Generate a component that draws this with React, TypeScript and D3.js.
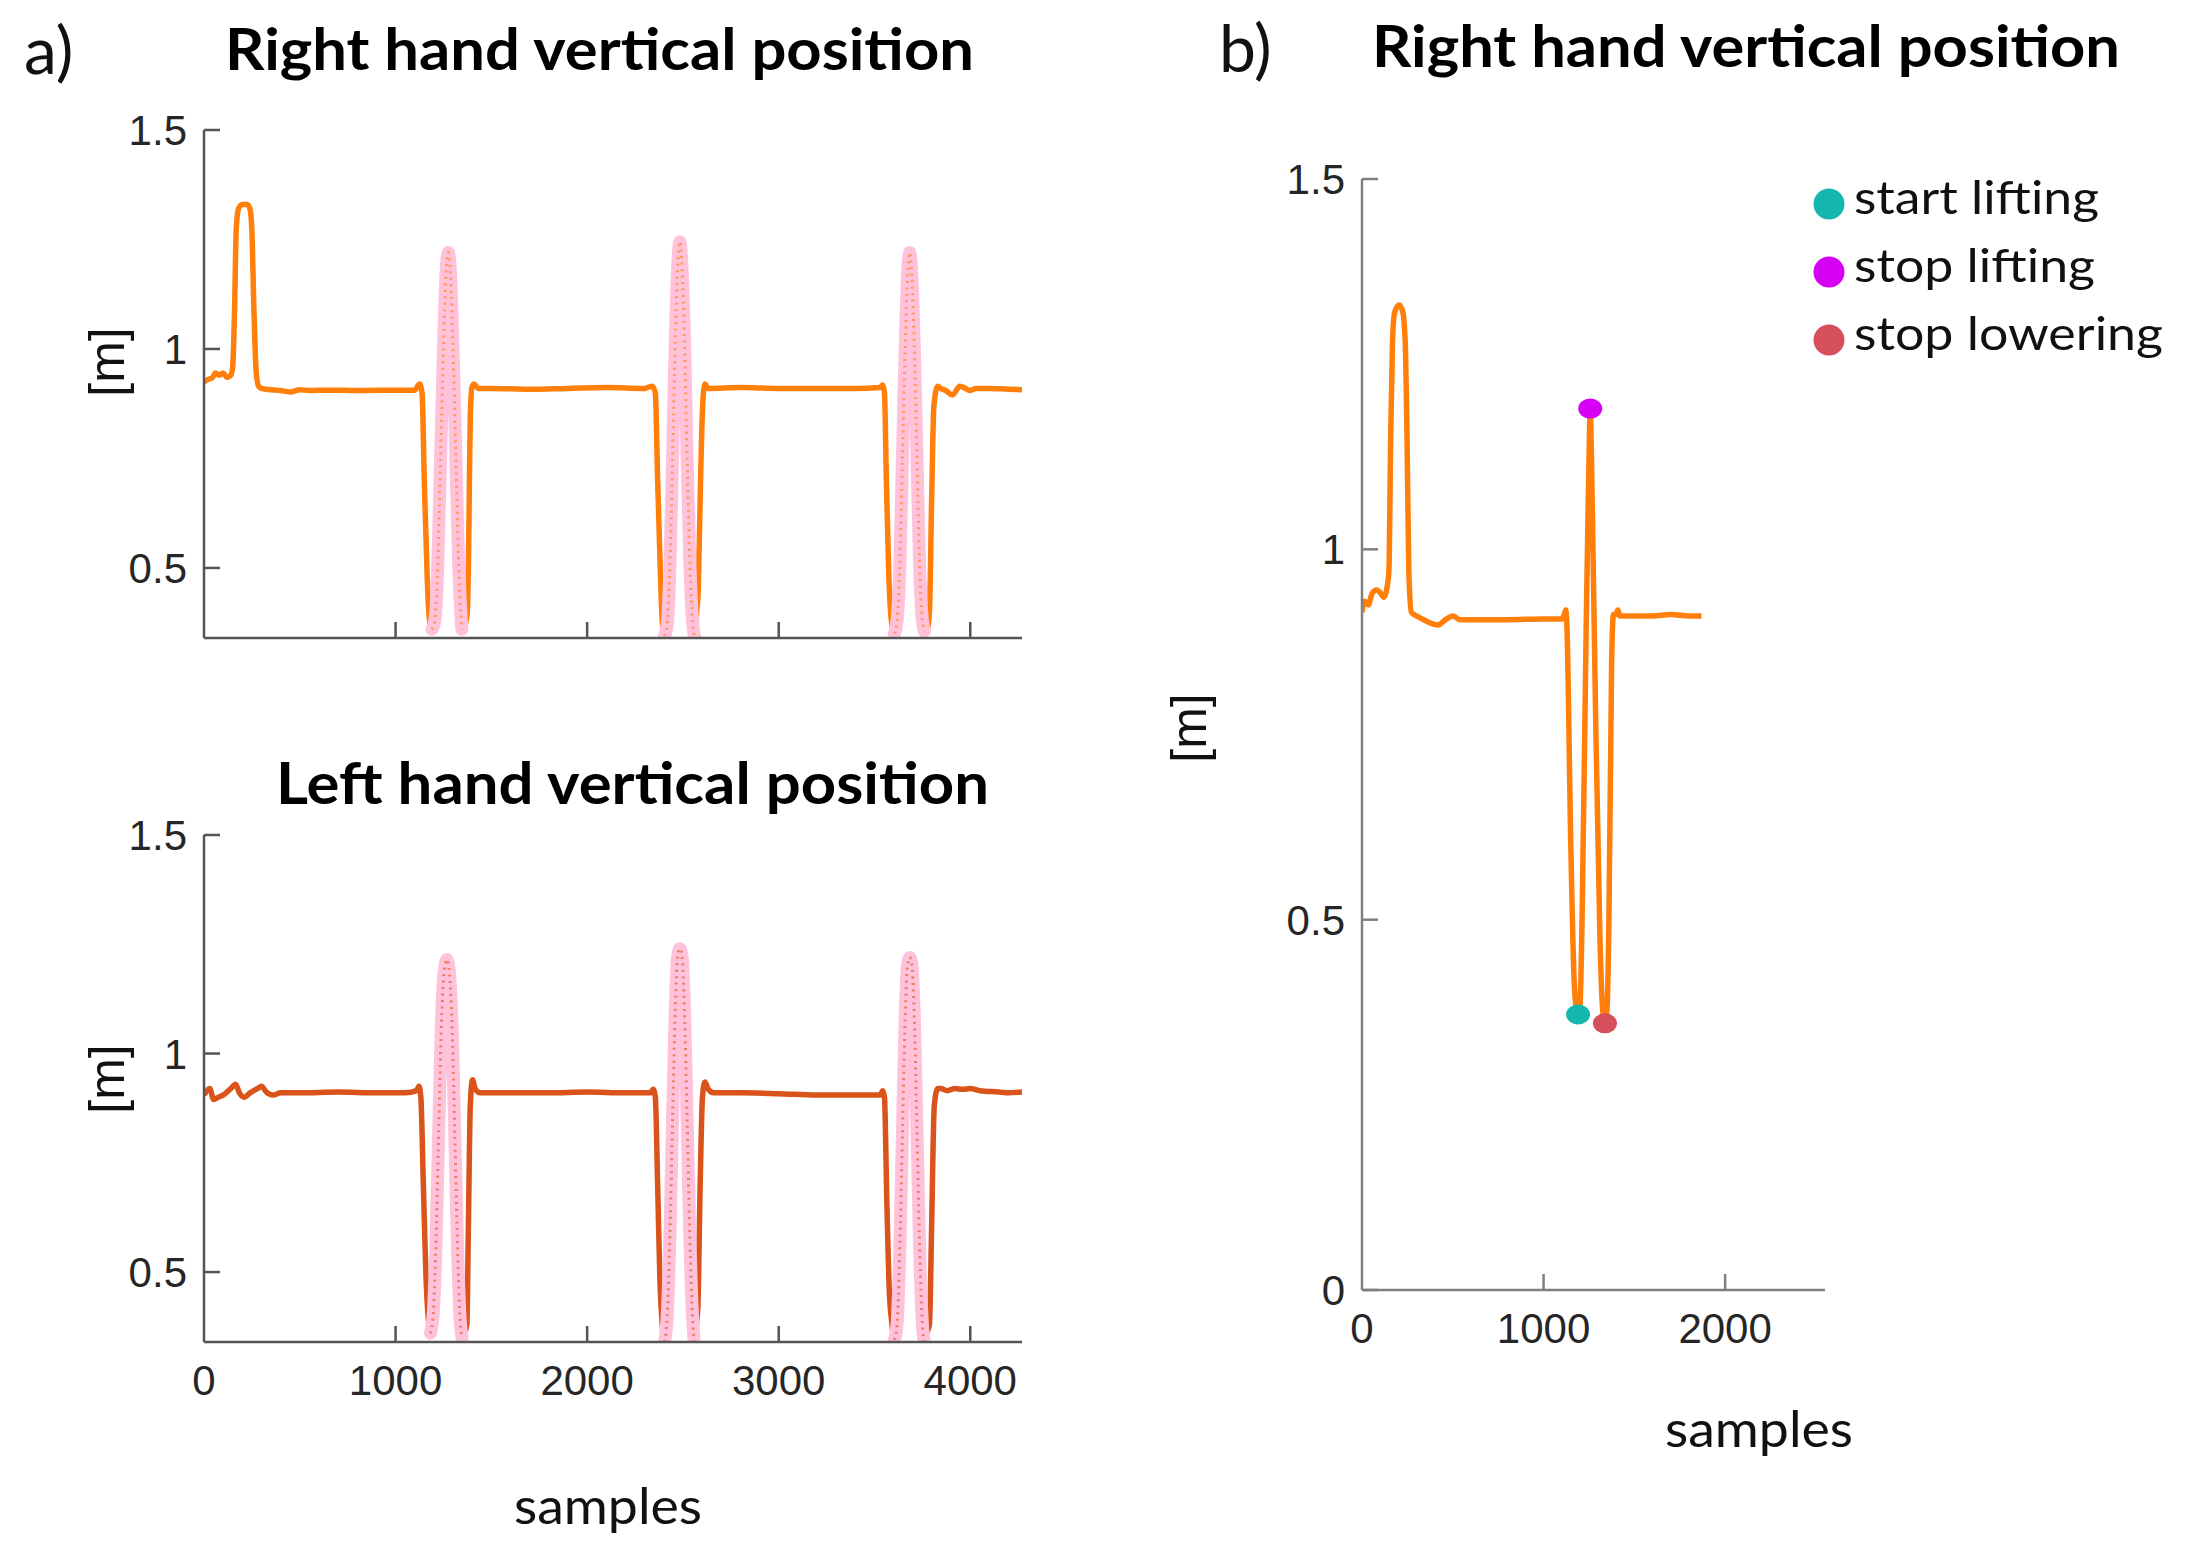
import React from "react";
import * as d3 from "d3";

type Pt = [number, number];

// a) right hand vertical position [sample, metres]
const rightHandA: Pt[] = [
  [0, 0.925], [20, 0.93], [45, 0.935], [60, 0.945], [80, 0.94], [100, 0.945], [120, 0.935], [140, 0.94],
  [150, 0.96], [160, 1.1], [168, 1.27], [180, 1.32], [200, 1.33], [225, 1.33], [240, 1.32], [250, 1.27],
  [260, 1.1], [272, 0.95], [285, 0.915], [300, 0.91], [350, 0.907], [400, 0.905], [450, 0.902], [500, 0.907],
  [550, 0.905], [650, 0.906], [800, 0.905], [1000, 0.906], [1100, 0.906], [1125, 0.92], [1138, 0.9],
  [1150, 0.7], [1165, 0.48], [1175, 0.39], [1190, 0.36],
  [1205, 0.38], [1220, 0.5], [1235, 0.75], [1250, 1.0], [1262, 1.16], [1275, 1.22], [1288, 1.16],
  [1300, 1.0], [1315, 0.75], [1330, 0.5], [1346, 0.36],
  [1362, 0.37], [1375, 0.4], [1383, 0.6], [1390, 0.85], [1400, 0.915], [1410, 0.92], [1430, 0.91],
  [1500, 0.91], [1700, 0.908], [1900, 0.91], [2100, 0.912], [2300, 0.91], [2340, 0.915], [2356, 0.9],
  [2368, 0.7], [2383, 0.48], [2392, 0.38], [2404, 0.345],
  [2418, 0.37], [2432, 0.5], [2446, 0.75], [2460, 1.02], [2472, 1.18], [2484, 1.245], [2496, 1.18],
  [2508, 1.02], [2522, 0.75], [2537, 0.5], [2550, 0.38], [2561, 0.34],
  [2572, 0.4], [2580, 0.45], [2592, 0.7], [2604, 0.88], [2615, 0.92], [2630, 0.91], [2800, 0.912],
  [3000, 0.91], [3200, 0.91], [3400, 0.91], [3530, 0.912], [3541, 0.918], [3552, 0.9], [3562, 0.7],
  [3575, 0.48], [3588, 0.38], [3604, 0.35],
  [3618, 0.38], [3632, 0.5], [3646, 0.75], [3660, 1.0], [3672, 1.16], [3684, 1.22], [3696, 1.16],
  [3708, 1.0], [3722, 0.75], [3736, 0.5], [3750, 0.38], [3761, 0.355],
  [3775, 0.36], [3787, 0.4], [3798, 0.65], [3810, 0.87], [3830, 0.915], [3845, 0.91], [3872, 0.905],
  [3908, 0.895], [3945, 0.915], [3975, 0.91], [4000, 0.905], [4030, 0.91], [4100, 0.91], [4200, 0.908],
  [4270, 0.907],
];
const rightLiftsA: Pt[] = [[1190, 1346], [2404, 2561], [3604, 3761]];

// a) left hand vertical position
const leftHandA: Pt[] = [
  [0, 0.905], [15, 0.915], [30, 0.92], [50, 0.895], [75, 0.9], [100, 0.905], [140, 0.92], [165, 0.93],
  [185, 0.91], [210, 0.9], [240, 0.91], [280, 0.92], [300, 0.925], [325, 0.912], [360, 0.905], [400, 0.91],
  [500, 0.91], [700, 0.912], [900, 0.91], [1050, 0.91], [1110, 0.915], [1122, 0.925], [1132, 0.9],
  [1145, 0.7], [1158, 0.5], [1168, 0.41], [1182, 0.36],
  [1196, 0.4], [1210, 0.55], [1224, 0.8], [1238, 1.05], [1252, 1.18], [1268, 1.215], [1282, 1.18],
  [1296, 1.05], [1310, 0.8], [1324, 0.55], [1336, 0.4], [1347, 0.35],
  [1360, 0.36], [1372, 0.38], [1380, 0.6], [1390, 0.88], [1402, 0.94], [1415, 0.92], [1440, 0.91],
  [1600, 0.91], [1800, 0.91], [2000, 0.912], [2200, 0.91], [2330, 0.91], [2345, 0.918], [2356, 0.9],
  [2368, 0.7], [2380, 0.48], [2392, 0.38], [2404, 0.34],
  [2418, 0.4], [2432, 0.58], [2446, 0.85], [2460, 1.1], [2472, 1.22], [2484, 1.24], [2496, 1.22],
  [2508, 1.1], [2522, 0.85], [2536, 0.58], [2550, 0.4], [2561, 0.33],
  [2570, 0.38], [2578, 0.42], [2590, 0.7], [2602, 0.9], [2615, 0.935], [2630, 0.92], [2660, 0.91],
  [2800, 0.91], [3000, 0.908], [3200, 0.905], [3400, 0.905], [3530, 0.905], [3543, 0.915], [3552, 0.9],
  [3565, 0.65], [3578, 0.45], [3589, 0.39], [3604, 0.345],
  [3618, 0.38], [3632, 0.55], [3646, 0.82], [3660, 1.08], [3672, 1.2], [3684, 1.22], [3696, 1.2],
  [3708, 1.08], [3722, 0.82], [3736, 0.55], [3750, 0.38], [3761, 0.34],
  [3772, 0.36], [3787, 0.38], [3798, 0.6], [3812, 0.88], [3830, 0.92], [3846, 0.92], [3880, 0.915],
  [3920, 0.92], [3960, 0.918], [4000, 0.92], [4050, 0.915], [4150, 0.912], [4200, 0.91], [4270, 0.912],
];
const leftLiftsA: Pt[] = [[1182, 1347], [2404, 2561], [3604, 3761]];

// b) right hand, first lift only
const rightHandB: Pt[] = [
  [0, 0.915], [15, 0.93], [35, 0.925], [55, 0.94], [80, 0.945], [105, 0.94], [120, 0.935], [135, 0.945],
  [148, 0.97], [158, 1.15], [168, 1.28], [180, 1.32], [205, 1.33], [225, 1.32], [238, 1.28], [248, 1.15],
  [258, 0.97], [272, 0.915], [300, 0.91], [340, 0.905], [380, 0.9], [420, 0.898], [460, 0.905],
  [500, 0.91], [540, 0.905], [600, 0.905], [800, 0.905], [1000, 0.906], [1100, 0.906], [1115, 0.912],
  [1122, 0.918], [1128, 0.9], [1150, 0.6], [1168, 0.42], [1180, 0.38], [1190, 0.372], [1200, 0.38],
  [1212, 0.5], [1235, 0.9], [1250, 1.12], [1257, 1.19], [1264, 1.12], [1285, 0.8], [1310, 0.48],
  [1325, 0.38], [1338, 0.36], [1350, 0.38], [1360, 0.5], [1375, 0.85], [1385, 0.912], [1398, 0.912],
  [1409, 0.918], [1420, 0.91], [1500, 0.91], [1600, 0.91], [1700, 0.912], [1800, 0.91], [1870, 0.91],
];

const eventNames = ["start lifting", "stop lifting", "stop lowering"];
const eventColors = ["#14b6ae", "#d600f4", "#d5505b"];
const eventPoints: Pt[] = [[1190, 0.372], [1257, 1.19], [1338, 0.36]];

const xTicksA = [0, 1000, 2000, 3000, 4000];
const yTicksA = [0.5, 1, 1.5];
const xTicksB = [0, 1000, 2000];
const yTicksB = [0, 0.5, 1, 1.5];

const ORANGE = "#ff7f0a";
const DARK_ORANGE = "#d9531a";
const PINK = "#ffc2da";
const TICK_FONT = "'Liberation Sans', Arial, sans-serif";
const TEXT_FONT = "Lato, 'Open Sans', sans-serif";

type PanelProps = {
  id: string;
  x: d3.ScaleLinear<number, number>;
  y: d3.ScaleLinear<number, number>;
  xTicks: number[];
  yTicks: number[];
  showXLabels: boolean;
  data: Pt[];
  color: string;
  axisColor: string;
  lifts?: Pt[];
};

const Panel: React.FC<PanelProps> = ({ id, x, y, xTicks, yTicks, showXLabels, data, color, axisColor, lifts = [] }) => {
  const [x0, x1] = x.range();
  const [yb, yt] = y.range();
  const line = d3
    .line<Pt>()
    .x((d) => x(d[0]))
    .y((d) => y(d[1]))
    .curve(d3.curveMonotoneX);
  const segs = lifts.map(([a, b]) => data.filter((d) => d[0] >= a && d[0] <= b));
  const tick = 16;

  return (
    <g>
      <defs>
        <clipPath id={id}>
          <rect x={x0} y={yt} width={x1 - x0} height={yb - yt} />
        </clipPath>
      </defs>
      <g clipPath={`url(#${id})`}>
        <path d={line(data) || ""} fill="none" stroke={color} strokeWidth={5.5} strokeLinejoin="round" />
        {segs.map((s, i) => (
          <path key={`p${i}`} d={line(s) || ""} fill="none" stroke={PINK} strokeWidth={13} strokeLinecap="round" />
        ))}
        {segs.map((s, i) => (
          <path
            key={`d${i}`}
            d={line(s) || ""}
            fill="none"
            stroke={color}
            strokeOpacity={0.6}
            strokeWidth={3}
            strokeDasharray="2 4.5"
          />
        ))}
      </g>
      <line x1={x0} x2={x0} y1={yb} y2={yt} stroke={axisColor} strokeWidth={2.5} />
      <line x1={x0} x2={x1} y1={yb} y2={yb} stroke={axisColor} strokeWidth={2.5} />
      {yTicks.map((t) => (
        <g key={`y${t}`}>
          <line x1={x0} x2={x0 + tick} y1={y(t)} y2={y(t)} stroke={axisColor} strokeWidth={2.5} />
          <text x={x0 - 17} y={y(t)} dy="0.36em" textAnchor="end" fontFamily={TICK_FONT} fontSize={42} fill="#262626">
            {String(t)}
          </text>
        </g>
      ))}
      {xTicks.map((t) => (
        <g key={`x${t}`}>
          {t > 0 && <line x1={x(t)} x2={x(t)} y1={yb} y2={yb - tick} stroke={axisColor} strokeWidth={2.5} />}
          {showXLabels && (
            <text x={x(t)} y={yb + 53} textAnchor="middle" fontFamily={TICK_FONT} fontSize={42} fill="#262626">
              {String(t)}
            </text>
          )}
        </g>
      ))}
    </g>
  );
};

const App: React.FC = () => {
  const xA = d3.scaleLinear().domain([0, 4270]).range([204, 1022]);
  const yATop = d3.scaleLinear().domain([0.34, 1.5]).range([638, 130]);
  const yABottom = d3.scaleLinear().domain([0.34, 1.5]).range([1342, 835]);
  const xB = d3.scaleLinear().domain([0, 2550]).range([1362, 1825]);
  const yB = d3.scaleLinear().domain([0, 1.5]).range([1290, 179]);

  const title = (s: string, x: number, y: number, w: number) => (
    <text x={x} y={y} textLength={w} lengthAdjust="spacingAndGlyphs" fontFamily={TEXT_FONT} fontWeight={700} fontSize={58} fill="#000">
      {s}
    </text>
  );
  const yLabel = (cx: number, cy: number) => (
    <text transform={`translate(${cx + 13},${cy}) rotate(-90)`} textAnchor="middle" fontFamily={TICK_FONT} fontSize={50} fill="#111">
      [m]
    </text>
  );
  const samples = (cx: number, y: number) => (
    <text x={cx - 94} y={y} textLength={188} lengthAdjust="spacingAndGlyphs" fontFamily={TEXT_FONT} fontSize={50} fill="#111">
      samples
    </text>
  );

  return (
    <svg width={2195} height={1554} style={{ position: "absolute", left: 0, top: 0, background: "#fff" }}>
      <text x={24} y={74} fontFamily={TEXT_FONT} fontSize={66} fill="#111">a)</text>
      <text x={1219} y={72} fontFamily={TEXT_FONT} fontSize={66} fill="#111">b)</text>

      {title("Right hand vertical position", 225, 70, 749)}
      {title("Left hand vertical position", 276, 804, 713)}
      {title("Right hand vertical position", 1372, 67, 748)}

      <Panel id="clipA1" x={xA} y={yATop} xTicks={xTicksA} yTicks={yTicksA} showXLabels={false} data={rightHandA} color={ORANGE} axisColor="#555" lifts={rightLiftsA} />
      <Panel id="clipA2" x={xA} y={yABottom} xTicks={xTicksA} yTicks={yTicksA} showXLabels={true} data={leftHandA} color={DARK_ORANGE} axisColor="#555" lifts={leftLiftsA} />
      <Panel id="clipB" x={xB} y={yB} xTicks={xTicksB} yTicks={yTicksB} showXLabels={true} data={rightHandB} color={ORANGE} axisColor="#808080" />

      {eventPoints.map((p, i) => (
        <ellipse key={eventNames[i]} cx={xB(p[0])} cy={yB(p[1])} rx={12} ry={10} fill={eventColors[i]} />
      ))}

      {eventNames.map((n, i) => (
        <g key={n}>
          <circle cx={1829} cy={204 + i * 68} r={15.5} fill={eventColors[i]} />
          <text x={1854} y={214 + i * 68} textLength={[245, 241, 309][i]} lengthAdjust="spacingAndGlyphs" fontFamily={TEXT_FONT} fontSize={46} fill="#111">
            {n}
          </text>
        </g>
      ))}

      {yLabel(111, 362)}
      {yLabel(111, 1079)}
      {yLabel(1193, 728)}
      {samples(608, 1524)}
      {samples(1759, 1447)}
    </svg>
  );
};

export default App;
